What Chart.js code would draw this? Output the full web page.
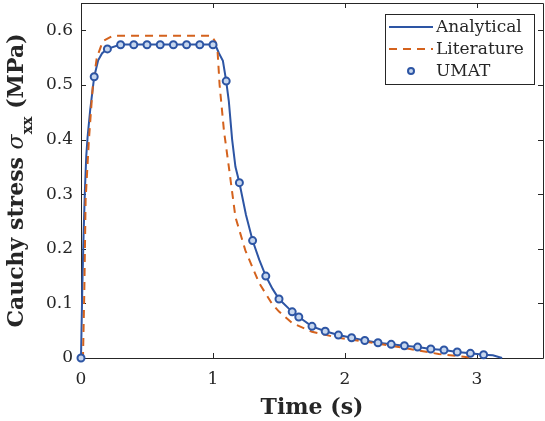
<!DOCTYPE html>
<html>
    <head>
        <meta charset="utf-8">
        <title>Cauchy stress</title>
        <style>
            html, body { margin: 0; padding: 0; background: #fff; }
        </style>
    </head>
    <body>
        <canvas id="myChart" width="545" height="421"></canvas>
        <script src="https://cdn.jsdelivr.net/npm/chart.js"></script>
        <script>
            // values
            const analyticalTime = [0, 0.01, 0.02, 0.03, 0.04, 0.05, 0.07, 0.1, 0.13, 0.16, 0.2, 0.3, 0.4, 0.5, 0.6, 0.7, 0.8, 0.9, 1.0,
                1.02, 1.045, 1.075, 1.1, 1.12, 1.145, 1.17, 1.2, 1.25, 1.3, 1.35, 1.4, 1.45, 1.5, 1.6, 1.65, 1.75, 1.85, 1.95,
                2.05, 2.15, 2.25, 2.35, 2.45, 2.55, 2.65, 2.75, 2.85, 2.95, 3.05, 3.12, 3.19];
            const analyticalStress = [0, 0.13, 0.23, 0.31, 0.37, 0.405, 0.455, 0.515, 0.545, 0.558, 0.566, 0.574, 0.574, 0.574, 0.574, 0.574, 0.574, 0.574, 0.574,
                0.572, 0.558, 0.544, 0.507, 0.47, 0.40, 0.35, 0.321, 0.262, 0.215, 0.18, 0.150, 0.127, 0.108, 0.0845, 0.075, 0.058, 0.049, 0.042,
                0.037, 0.032, 0.028, 0.025, 0.0225, 0.020, 0.0164, 0.0146, 0.011, 0.0085, 0.006, 0.005, 0];

            const literatureTime = [0, 0.015, 0.025, 0.035, 0.06, 0.09, 0.12, 0.165, 0.24, 0.5, 0.99, 1.02, 1.035, 1.05, 1.083, 1.12, 1.17,
                1.245, 1.35, 1.445, 1.5, 1.6, 1.75, 1.95, 2.15, 2.35, 2.55, 2.71, 2.9, 2.97];
            const literatureStress = [0, 0, 0.12, 0.29, 0.40, 0.50, 0.55, 0.58, 0.59, 0.59, 0.59, 0.578, 0.56, 0.50, 0.416, 0.35, 0.258,
                0.197, 0.137, 0.100, 0.085, 0.064, 0.048, 0.037, 0.030, 0.0225, 0.014, 0.0073, 0.0024, 0];

            const umatTime = [0, 0.1, 0.2, 0.3, 0.4, 0.5, 0.6, 0.7, 0.8, 0.9, 1.0, 1.1, 1.2, 1.3, 1.4, 1.5, 1.6, 1.65, 1.75, 1.85, 1.95,
                2.05, 2.15, 2.25, 2.35, 2.45, 2.55, 2.65, 2.75, 2.85, 2.95, 3.05];
            const umatStress = [0, 0.515, 0.566, 0.5735, 0.5735, 0.5735, 0.5735, 0.5735, 0.5735, 0.5735, 0.5735, 0.507, 0.321, 0.215, 0.150, 0.108, 0.0845, 0.075, 0.058, 0.049, 0.042,
                0.037, 0.032, 0.028, 0.025, 0.0225, 0.020, 0.0164, 0.0146, 0.011, 0.0085, 0.006];

            const xTicks = [0, 1, 2, 3];
            const yTicks = [0, 0.1, 0.2, 0.3, 0.4, 0.5, 0.6];
            const xTickLabels = ['0', '1', '2', '3'];
            const yTickLabels = ['0', '0.1', '0.2', '0.3', '0.4', '0.5', '0.6'];

            const BLUE = '#2d55a4';
            const ORANGE = '#d4621d';
            const FACE = '#c6d6ee';
            const INK = '#262626';
            const SERIF = "'DejaVu Serif', serif";

            const pairs = (xs, ys) => xs.map((x, i) => ({x: x, y: ys[i]}));

            // box, inward ticks, legend and y title drawn the way the matlab figure has them
            const frame = {
                id: 'frame',
                beforeDatasetsDraw(chart) {
                    const {ctx, chartArea: a, scales} = chart;
                    ctx.save();
                    ctx.strokeStyle = INK;
                    ctx.lineWidth = 1;
                    ctx.beginPath();
                    ctx.rect(Math.round(a.left) + 0.5, Math.round(a.top) + 0.5, Math.round(a.right - a.left), Math.round(a.bottom - a.top));
                    xTicks.forEach(v => {
                        const px = Math.round(scales.x.getPixelForValue(v)) + 0.5;
                        ctx.moveTo(px, a.bottom); ctx.lineTo(px, a.bottom - 5);
                        ctx.moveTo(px, a.top); ctx.lineTo(px, a.top + 5);
                    });
                    yTicks.forEach(v => {
                        const py = Math.round(scales.y.getPixelForValue(v)) + 0.5;
                        ctx.moveTo(a.left, py); ctx.lineTo(a.left + 5, py);
                        ctx.moveTo(a.right, py); ctx.lineTo(a.right - 5, py);
                    });
                    ctx.stroke();
                    ctx.restore();
                },
                afterDraw(chart) {
                    const ctx = chart.ctx;
                    ctx.save();

                    // legend
                    const bx = 385.5, by = 14.5, bw = 149, bh = 70;
                    ctx.fillStyle = '#fff';
                    ctx.fillRect(bx, by, bw, bh);
                    ctx.strokeStyle = INK;
                    ctx.lineWidth = 1;
                    ctx.strokeRect(bx, by, bw, bh);
                    const rows = [27, 49, 71];
                    ctx.font = '17px ' + SERIF;
                    ctx.fillStyle = INK;
                    ctx.textBaseline = 'middle';
                    chart.data.datasets.forEach((ds, i) => {
                        const y = rows[i];
                        ctx.save();
                        if (i === 2) {
                            ctx.beginPath();
                            ctx.arc(411, y, 3, 0, Math.PI * 2);
                            ctx.fillStyle = FACE;
                            ctx.fill();
                            ctx.lineWidth = 2;
                            ctx.strokeStyle = BLUE;
                            ctx.stroke();
                        } else {
                            ctx.beginPath();
                            ctx.setLineDash(ds.borderDash || []);
                            ctx.strokeStyle = ds.borderColor;
                            ctx.lineWidth = 2;
                            ctx.moveTo(389, y); ctx.lineTo(433, y);
                            ctx.stroke();
                        }
                        ctx.restore();
                        ctx.fillText(ds.label, 436, y + 1);
                    });

                    // y title with subscript
                    const parts = [
                        {t: 'Cauchy stress ', f: 'bold 22px ' + SERIF, dy: 0},
                        {t: '\u03c3', f: 'italic 22px ' + SERIF, dy: 0},
                        {t: 'xx', f: 'bold 15px ' + SERIF, dy: 9},
                        {t: ' (MPa)', f: 'bold 22px ' + SERIF, dy: 0}
                    ];
                    let total = 0;
                    parts.forEach(p => { ctx.font = p.f; p.w = ctx.measureText(p.t).width; total += p.w; });
                    ctx.translate(23, 180.5);
                    ctx.rotate(-Math.PI / 2);
                    ctx.textBaseline = 'alphabetic';
                    ctx.textAlign = 'left';
                    let u = -total / 2;
                    parts.forEach(p => {
                        ctx.font = p.f;
                        ctx.fillText(p.t, u, p.dy);
                        u += p.w;
                    });
                    ctx.restore();
                }
            };

            const noPad = s => {
                s.paddingTop = 0; s.paddingBottom = 0;
                s.paddingLeft = 0; s.paddingRight = 0;
            };

            const ctx = document.getElementById('myChart').getContext('2d');

            const myChart = new Chart(ctx, {
                type: 'line',
                data: {
                    datasets: [{
                        label: 'Analytical',
                        data: pairs(analyticalTime, analyticalStress),
                        borderColor: BLUE,
                        borderWidth: 2,
                        pointRadius: 0,
                        tension: 0,
                        fill: false,
                        clip: false,
                        order: 3,
                    }, {
                        label: 'Literature',
                        data: pairs(literatureTime, literatureStress),
                        borderColor: ORANGE,
                        borderWidth: 2,
                        borderDash: [8, 6],
                        pointRadius: 0,
                        tension: 0,
                        fill: false,
                        clip: false,
                        order: 2,
                    }, {
                        label: 'UMAT',
                        data: pairs(umatTime, umatStress),
                        showLine: false,
                        borderColor: BLUE,
                        backgroundColor: FACE,
                        pointRadius: 3.5,
                        pointBorderWidth: 2,
                        pointBackgroundColor: FACE,
                        pointBorderColor: BLUE,
                        clip: false,
                        order: 1,
                    }]
                },
                options: {
                    responsive: false,
                    animation: false,
                    devicePixelRatio: 1,
                    layout: {
                        autoPadding: false,
                        padding: {top: 3, right: 2, left: 0, bottom: 0}
                    },
                    plugins: {
                        legend: {display: false},
                        tooltip: {enabled: false}
                    },
                    scales: {
                        x: {
                            type: 'linear',
                            min: 0,
                            max: 3.5,
                            afterBuildTicks: s => { s.ticks = xTicks.map(v => ({value: v})); },
                            afterFit: s => { s.height = 63; noPad(s); },
                            grid: {display: false, drawTicks: false},
                            border: {display: false},
                            ticks: {
                                padding: 11,
                                color: INK,
                                font: {family: SERIF, size: 17},
                                maxRotation: 0,
                                callback: (v, i) => xTickLabels[i]
                            },
                            title: {
                                display: true,
                                text: 'Time (s)',
                                color: INK,
                                font: {family: SERIF, size: 22, weight: 'bold'},
                                padding: {top: 0, bottom: 0}
                            }
                        },
                        y: {
                            type: 'linear',
                            min: 0,
                            max: 0.65,
                            afterBuildTicks: s => { s.ticks = yTicks.map(v => ({value: v})); },
                            afterFit: s => { s.width = 81; noPad(s); },
                            grid: {display: false, drawTicks: false},
                            border: {display: false},
                            ticks: {
                                padding: 8,
                                color: INK,
                                font: {family: SERIF, size: 17},
                                callback: (v, i) => yTickLabels[i]
                            }
                        }
                    }
                },
                plugins: [frame]
            });
        </script>
    </body>
</html>
